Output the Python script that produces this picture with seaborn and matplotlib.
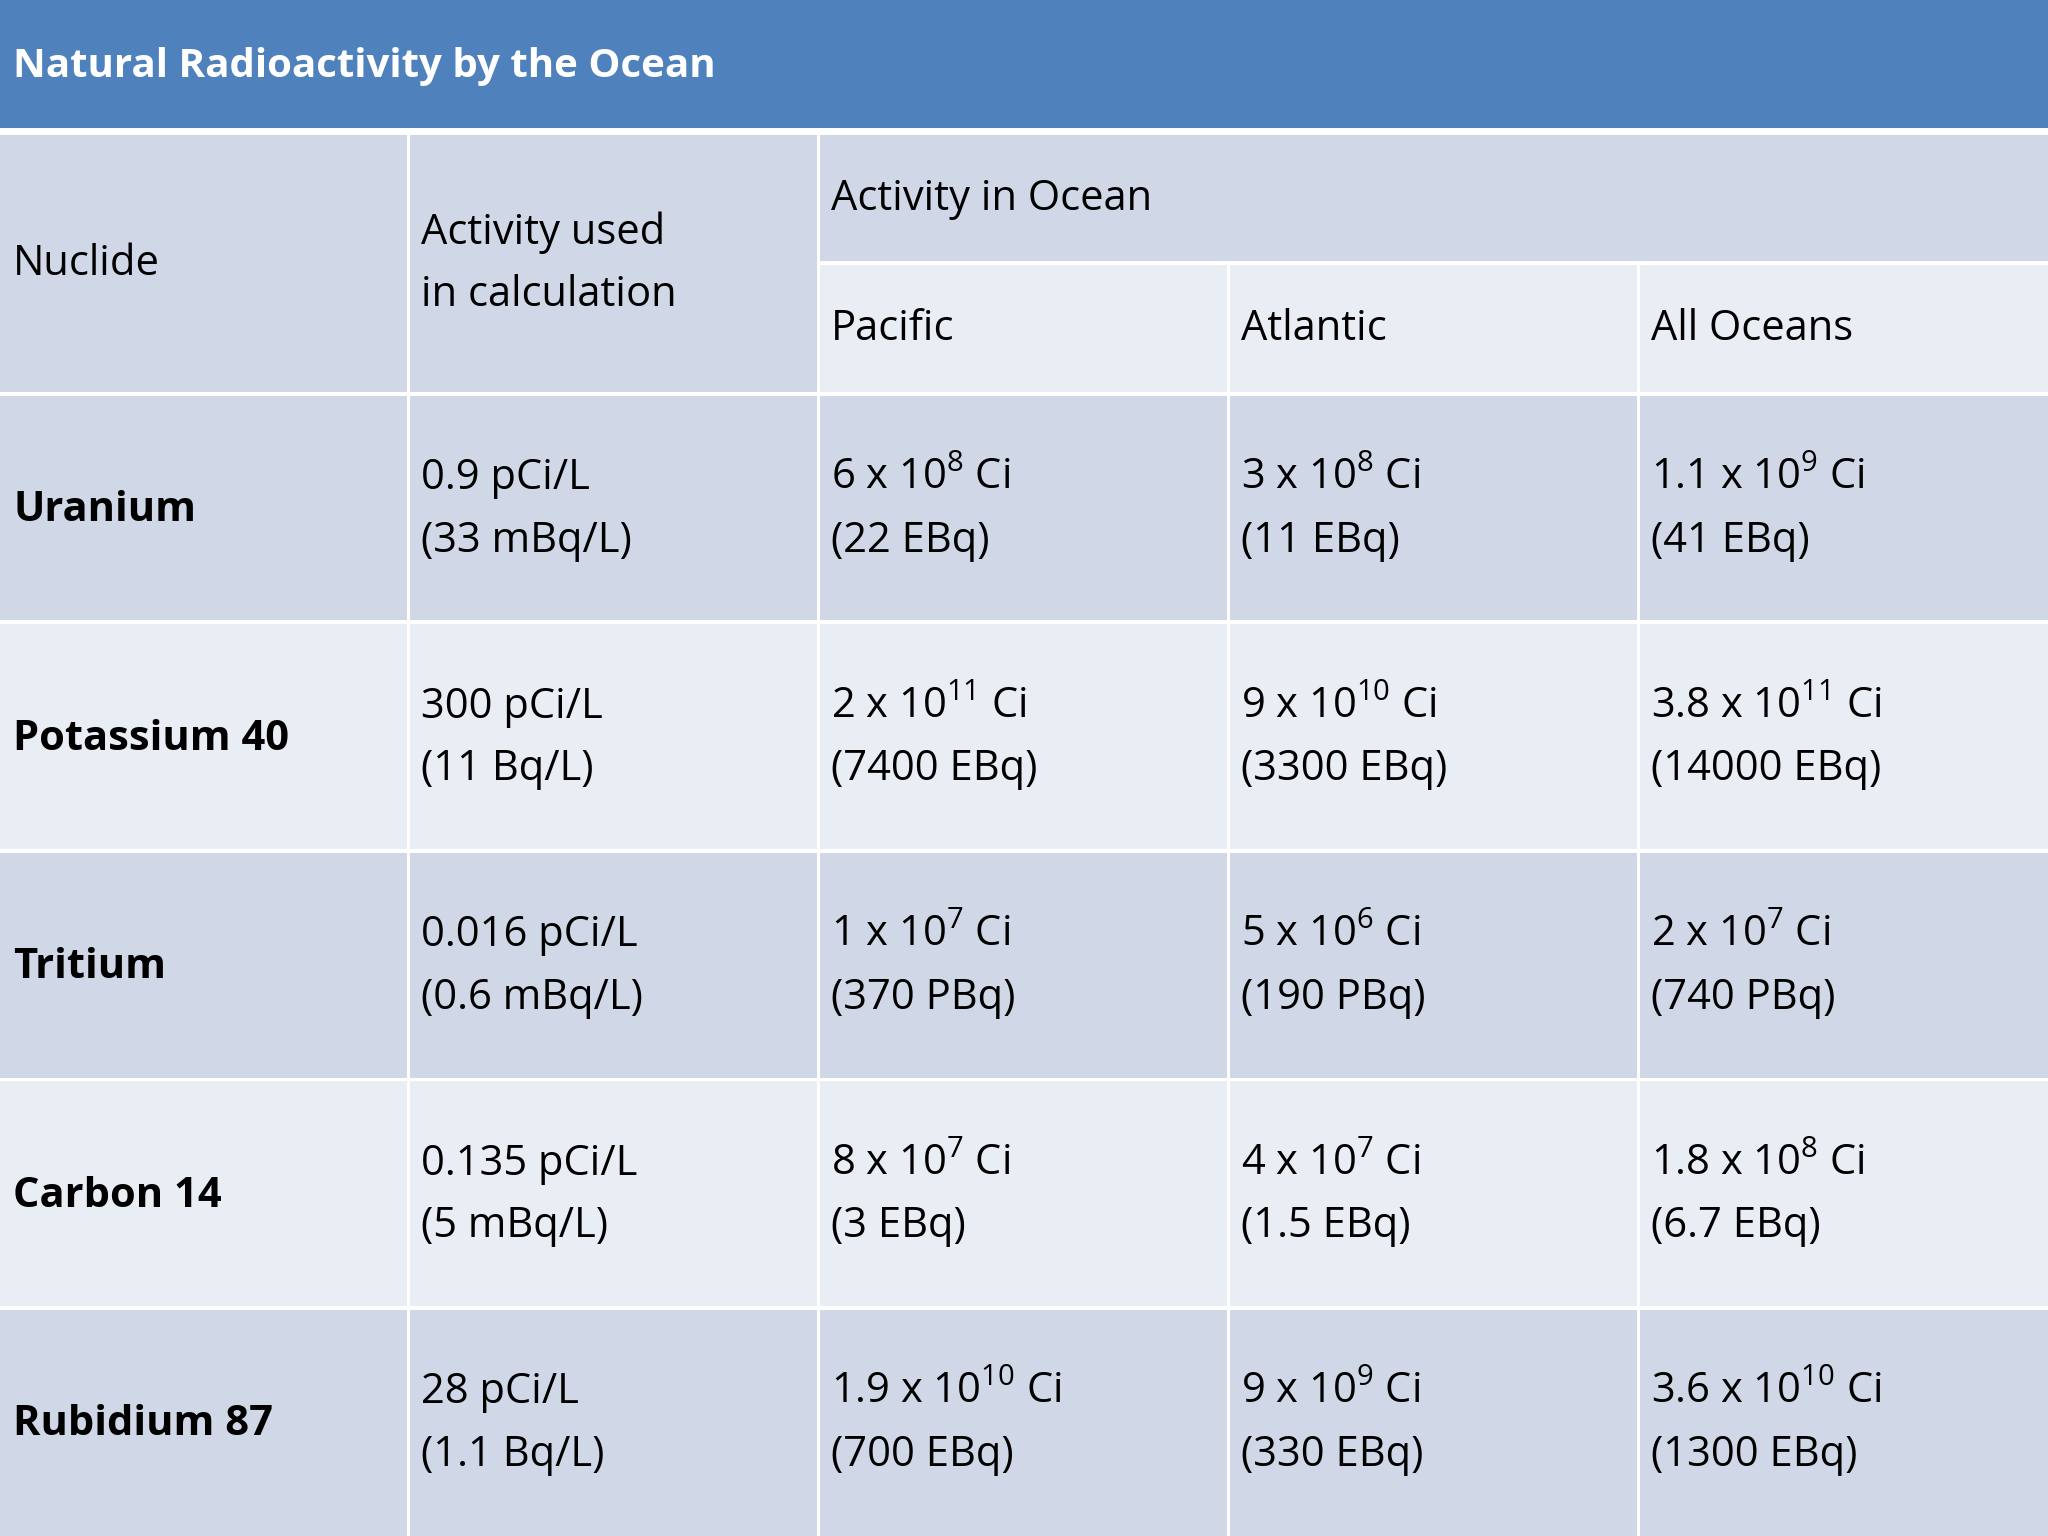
import matplotlib
matplotlib.use("Agg")
import matplotlib.pyplot as plt
import seaborn as sns
from matplotlib.patches import Rectangle

sns.set_theme(style="white")
plt.rcParams['font.family'] = ['Open Sans', 'DejaVu Sans']
plt.rcParams['mathtext.fontset'] = 'custom'
plt.rcParams['mathtext.rm'] = 'Open Sans'

title = "Natural Radioactivity by the Ocean"
nuclides = ["Uranium", "Potassium 40", "Tritium", "Carbon 14", "Rubidium 87"]
used = ["0.9 pCi/L\n(33 mBq/L)", "300 pCi/L\n(11 Bq/L)", "0.016 pCi/L\n(0.6 mBq/L)",
        "0.135 pCi/L\n(5 mBq/L)", "28 pCi/L\n(1.1 Bq/L)"]
pacific = ["6 x 10$^{8}$ Ci\n(22 EBq)", "2 x 10$^{11}$ Ci\n(7400 EBq)", "1 x 10$^{7}$ Ci\n(370 PBq)",
           "8 x 10$^{7}$ Ci\n(3 EBq)", "1.9 x 10$^{10}$ Ci\n(700 EBq)"]
atlantic = ["3 x 10$^{8}$ Ci\n(11 EBq)", "9 x 10$^{10}$ Ci\n(3300 EBq)", "5 x 10$^{6}$ Ci\n(190 PBq)",
            "4 x 10$^{7}$ Ci\n(1.5 EBq)", "9 x 10$^{9}$ Ci\n(330 EBq)"]
all_oceans = ["1.1 x 10$^{9}$ Ci\n(41 EBq)", "3.8 x 10$^{11}$ Ci\n(14000 EBq)", "2 x 10$^{7}$ Ci\n(740 PBq)",
              "1.8 x 10$^{8}$ Ci\n(6.7 EBq)", "3.6 x 10$^{10}$ Ci\n(1300 EBq)"]
hdr_nuclide = "Nuclide"
hdr_used = ["Activity used", "in calculation"]
hdr_ocean = "Activity in Ocean"
sub_hdrs = ["Pacific", "Atlantic", "All Oceans"]

W, H = 1568, 1176
fig = plt.figure(figsize=(20.48, 15.36), dpi=100)
ax = fig.add_axes([0, 0, 1, 1])
ax.set_xlim(0, W); ax.set_ylim(H, 0); ax.axis('off')
fig.patch.set_facecolor('white')

DARK, LIGHT, BLUE = "#D0D8E8", "#E9EDF4", "#4F81BD"
cols = [0, 314, 628, 942, 1256, W]
g = 2.5
def rect(x0, y0, x1, y1, c):
    ax.add_patch(Rectangle((x0, y0), x1 - x0, y1 - y0, facecolor=c, edgecolor='none'))

rect(0, 0, W, 98, BLUE)
ax.text(10, 51, title, color='white', fontsize=29, fontweight='bold', va='center')

FS = 30
rect(0, 103, cols[1] - g, 300, DARK)
rect(cols[1], 103, cols[2] - g, 300, DARK)
rect(cols[2], 103, W, 200, DARK)
ax.text(10, 202, hdr_nuclide, fontsize=FS, va='center', color='black')
ax.text(cols[1] + 8, 178, hdr_used[0], fontsize=FS, va='center', color='black')
ax.text(cols[1] + 8, 226, hdr_used[1], fontsize=FS, va='center', color='black')
ax.text(cols[2] + 8, 152, hdr_ocean, fontsize=FS, va='center', color='black')
for i, s in enumerate(sub_hdrs):
    rect(cols[2 + i], 203, cols[3 + i] - (g if i < 2 else 0), 300, LIGHT)
    ax.text(cols[2 + i] + 8, 252, s, fontsize=FS, va='center', color='black')

row_tops = [303, 478, 653, 828, 1003]
for r, top in enumerate(row_tops):
    bot = top + 172 if r < 4 else H
    c = DARK if r % 2 == 0 else LIGHT
    vals = [used[r], pacific[r], atlantic[r], all_oceans[r]]
    for j in range(5):
        rect(cols[j], top, cols[j + 1] - (g if j < 4 else 0), bot, c)
    mid = (top + 475 - 303) / 2 + top / 2 if False else (top + top + 172) / 2
    ax.text(10, mid + 2, nuclides[r], fontsize=FS, fontweight='bold', va='center', color='black')
    for j, v in enumerate(vals):
        l1, l2 = v.split("\n")
        ax.text(cols[j + 1] + 8, mid - 23, l1, fontsize=FS, va='center', color='black')
        ax.text(cols[j + 1] + 8, mid + 25, l2, fontsize=FS, va='center', color='black')

fig.savefig("out.png", dpi=100, facecolor='white')
